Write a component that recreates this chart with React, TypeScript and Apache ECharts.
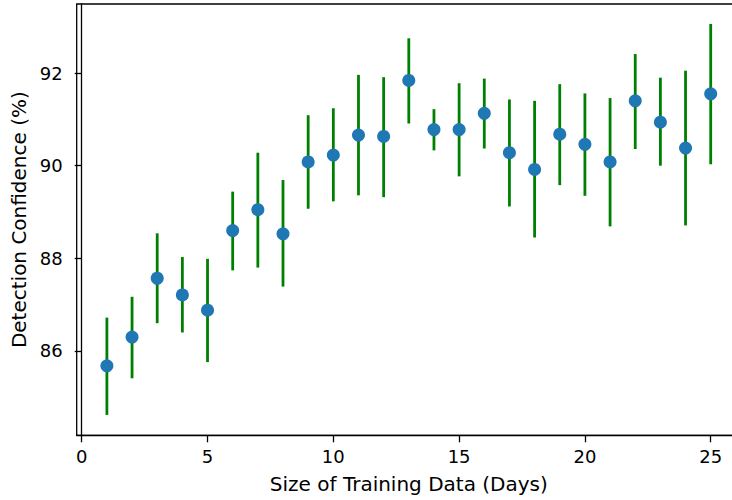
import React, { useEffect, useRef } from "react";
import * as echarts from "echarts";

const days = [1, 2, 3, 4, 5, 6, 7, 8, 9, 10, 11, 12, 13, 14, 15, 16, 17, 18, 19, 20, 21, 22, 23, 24, 25];
const meanConf = [85.68, 86.3, 87.57, 87.21, 86.88, 88.6, 89.05, 88.53, 90.08, 90.23, 90.66, 90.63, 91.84, 90.78, 90.78, 91.13, 90.28, 89.92, 90.68, 90.46, 90.08, 91.4, 90.94, 90.38, 91.55];
const lowerConf = [84.62, 85.41, 86.6, 86.4, 85.76, 87.74, 87.8, 87.39, 89.07, 89.23, 89.36, 89.32, 90.91, 90.33, 89.77, 90.37, 89.12, 88.45, 89.58, 89.35, 88.69, 90.36, 90.0, 88.71, 90.03];
const upperConf = [86.72, 87.17, 88.54, 88.03, 87.99, 89.44, 90.28, 89.69, 91.09, 91.24, 91.96, 91.91, 92.75, 91.22, 91.78, 91.88, 91.43, 91.4, 91.76, 91.56, 91.46, 92.41, 91.9, 92.05, 93.06];
const xTicks = [0, 5, 10, 15, 20, 25];
const yTicks = [86, 88, 90, 92];

const FONT = "'DejaVu Sans'";

export default function App() {
  const ref = useRef<HTMLDivElement>(null);
  useEffect(() => {
    document.body.style.margin = "0";
    if (!ref.current) return;
    const chart = echarts.init(ref.current, null, { renderer: "svg" });
    const errData = days.map((d, i) => [d, lowerConf[i], upperConf[i]]);
    const ptData = days.map((d, i) => [d, meanConf[i]]);
    chart.setOption({
      animation: false,
      backgroundColor: "#fff",
      grid: {
        left: 76.7,
        top: 4,
        width: 664.2,
        height: 431.3,
        containLabel: false,
        outerBoundsMode: "none",
        show: true,
        borderColor: "#000",
        borderWidth: 1.3,
        backgroundColor: "transparent",
      },
      xAxis: {
        type: "value",
        min: -0.2,
        max: 26.2,
        name: "Size of Training Data (Days)",
        nameLocation: "middle",
        nameGap: 39,
        nameTextStyle: { fontFamily: FONT, fontSize: 20, color: "#000" },
        axisLine: { show: true, lineStyle: { color: "#000", width: 1.3 } },
        axisTick: { show: true, length: 7, customValues: xTicks, lineStyle: { color: "#000", width: 1.3 } },
        axisLabel: { customValues: xTicks, fontFamily: FONT, fontSize: 18, color: "#000", margin: 12 },
        splitLine: { show: false },
      },
      yAxis: {
        type: "value",
        min: 84.18,
        max: 93.49,
        name: "Detection Confidence (%)",
        nameLocation: "middle",
        nameGap: 45,
        nameRotate: 90,
        nameTextStyle: { fontFamily: FONT, fontSize: 20, color: "#000" },
        axisLine: { show: true, lineStyle: { color: "#000", width: 1.3 } },
        axisTick: { show: true, length: 7, customValues: yTicks, lineStyle: { color: "#000", width: 1.3 } },
        axisLabel: { customValues: yTicks, fontFamily: FONT, fontSize: 18, color: "#000", margin: 14 },
        splitLine: { show: false },
      },
      series: [
        {
          type: "custom",
          data: errData,
          encode: { x: 0, y: [1, 2] },
          renderItem: (params: any, api: any) => {
            const x = api.value(0);
            const p1 = api.coord([x, api.value(1)]);
            const p2 = api.coord([x, api.value(2)]);
            return {
              type: "line",
              shape: { x1: p1[0], y1: p1[1], x2: p2[0], y2: p2[1] },
              style: { stroke: "#008000", lineWidth: 2.8 },
            };
          },
          z: 2,
        },
        {
          type: "scatter",
          data: ptData,
          symbol: "circle",
          symbolSize: 13,
          itemStyle: { color: "#1f77b4", opacity: 1 },
          z: 3,
        },
      ],
    });
    return () => chart.dispose();
  }, []);
  return <div ref={ref} style={{ width: 732, height: 500 }} />;
}
